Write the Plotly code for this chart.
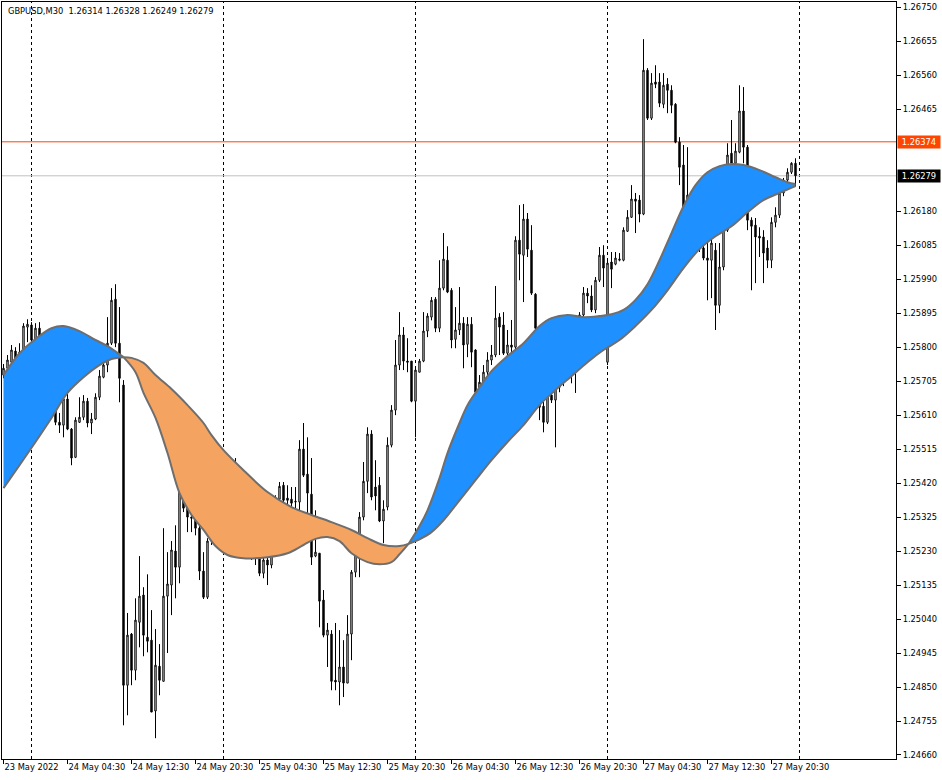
import numpy as np
import plotly.graph_objects as go

# ---------------- data ----------------
symbol_title = "GBPUSD,M30\u00a0\u00a01.26314 1.26328 1.26249 1.26279"

opens = [1.25722,1.25741,1.25758,1.25789,1.25764,1.25786,1.25856,1.25862,1.25820,1.25853,
1.25831,1.25786,1.25713,1.25643,1.25590,1.25582,1.25655,1.25571,1.25492,1.25590,
1.25604,1.25649,1.25588,1.25599,1.25660,1.25716,1.25750,1.25811,1.25934,1.25811,
1.25694,1.24855,1.24998,1.24897,1.25031,1.25107,1.24989,1.24981,1.24783,1.24908,
1.24866,1.25104,1.25135,1.25230,1.25185,1.25400,1.25350,1.25325,1.25322,1.25294,
1.25174,1.25101,1.25258,1.25316,1.25358,1.25400,1.25434,1.25456,1.25442,1.25414,
1.25372,1.25316,1.25261,1.25227,1.25210,1.25168,1.25205,1.25191,1.25261,1.25375,
1.25414,1.25378,1.25375,1.25367,1.25367,1.25515,1.25445,1.25389,1.25216,1.25224,
1.25093,1.24995,1.24998,1.24869,1.24864,1.24906,1.24861,1.24998,1.25171,1.25224,
1.25325,1.25425,1.25557,1.25409,1.25414,1.25314,1.25353,1.25526,1.25624,1.25750,
1.25834,1.25761,1.25761,1.25649,1.25730,1.25761,1.25845,1.25884,1.25934,1.25853,
1.25965,1.26043,1.25959,1.25822,1.25848,1.25867,1.25808,1.25864,1.25792,1.25674,
1.25702,1.25730,1.25764,1.25778,1.25884,1.25862,1.25783,1.25806,1.25800,1.26099,
1.26057,1.26158,1.26071,1.25948,1.25853,1.25635,1.25590,1.25666,1.25652,1.25688,
1.25708,1.25722,1.25730,1.25741,1.25778,1.25890,1.25951,1.25943,1.25904,1.25987,
1.26057,1.25758,1.26038,1.26032,1.26043,1.26043,1.26124,1.26163,1.26214,1.26211,
1.26172,1.26574,1.26440,1.26541,1.26541,1.26479,1.26535,1.26518,1.26479,1.26373,
1.26309,1.26177,1.26219,1.26169,1.26113,1.26077,1.26049,1.26043,1.26071,1.25917,
1.26024,1.26127,1.26342,1.26314,1.26345,1.26460,1.26359,1.26155,1.26141,1.26110,
1.26108,1.26077,1.26043,1.26149,1.26169,1.26231,1.26267,1.26289,1.26314]

highs = [1.25753,1.25778,1.25806,1.25800,1.25811,1.25867,1.25878,1.25870,1.25867,1.25870,
1.25839,1.25797,1.25730,1.25657,1.25616,1.25666,1.25671,1.25574,1.25604,1.25660,
1.25666,1.25658,1.25616,1.25671,1.25736,1.25758,1.25884,1.25965,1.25976,1.25912,
1.25708,1.25057,1.25001,1.25098,1.25216,1.25129,1.25165,1.25065,1.25012,1.24970,
1.25294,1.25227,1.25258,1.25302,1.25484,1.25442,1.25358,1.25372,1.25336,1.25311,
1.25227,1.25266,1.25344,1.25378,1.25423,1.25456,1.25479,1.25490,1.25490,1.25434,
1.25386,1.25330,1.25283,1.25247,1.25219,1.25216,1.25227,1.25275,1.25386,1.25423,
1.25423,1.25414,1.25409,1.25409,1.25540,1.25588,1.25548,1.25490,1.25344,1.25224,
1.25121,1.25029,1.25009,1.25029,1.25009,1.24981,1.25051,1.25177,1.25269,1.25339,
1.25479,1.25576,1.25568,1.25484,1.25437,1.25372,1.25548,1.25638,1.25820,1.25898,
1.25856,1.25825,1.25761,1.25741,1.25767,1.25898,1.25895,1.25940,1.25940,1.26043,
1.26119,1.26082,1.25965,1.25912,1.25968,1.25884,1.25884,1.25884,1.25794,1.25722,
1.25750,1.25786,1.25806,1.25971,1.25895,1.25898,1.25848,1.25876,1.26110,1.26197,
1.26200,1.26175,1.26141,1.25951,1.25862,1.25652,1.25674,1.25680,1.25694,1.25722,
1.25736,1.25750,1.25755,1.25792,1.25898,1.25968,1.25965,1.25973,1.25996,1.26080,
1.26085,1.26043,1.26066,1.26066,1.26063,1.26135,1.26183,1.26253,1.26231,1.26225,
1.26661,1.26580,1.26566,1.26588,1.26566,1.26566,1.26552,1.26532,1.26482,1.26387,
1.26365,1.26359,1.26239,1.26183,1.26127,1.26091,1.26108,1.26105,1.26091,1.26091,
1.26147,1.26370,1.26435,1.26370,1.26532,1.26527,1.26365,1.26163,1.26161,1.26135,
1.26127,1.26099,1.26163,1.26191,1.26239,1.26273,1.26300,1.26317,1.26328]

lows = [1.25713,1.25736,1.25755,1.25755,1.25753,1.25781,1.25814,1.25811,1.25811,1.25825,
1.25769,1.25702,1.25629,1.25582,1.25560,1.25548,1.25568,1.25470,1.25490,1.25588,
1.25596,1.25576,1.25557,1.25596,1.25652,1.25713,1.25730,1.25806,1.25800,1.25646,
1.24743,1.24771,1.24855,1.24869,1.24961,1.24936,1.24947,1.24780,1.24707,1.24827,
1.24866,1.24945,1.25051,1.25098,1.25140,1.25339,1.25283,1.25283,1.25274,1.25149,
1.25096,1.25096,1.25247,1.25302,1.25344,1.25386,1.25423,1.25428,1.25395,1.25350,
1.25294,1.25238,1.25205,1.25191,1.25160,1.25154,1.25135,1.25182,1.25247,1.25372,
1.25364,1.25353,1.25350,1.25344,1.25344,1.25437,1.25336,1.25191,1.25213,1.25017,
1.24989,1.24906,1.24841,1.24841,1.24799,1.24822,1.24861,1.24925,1.25157,1.25157,
1.25316,1.25392,1.25372,1.25344,1.25311,1.25252,1.25344,1.25520,1.25610,1.25736,
1.25736,1.25730,1.25646,1.25548,1.25730,1.25758,1.25828,1.25875,1.25842,1.25842,
1.25959,1.25951,1.25797,1.25797,1.25834,1.25741,1.25772,1.25744,1.25672,1.25658,
1.25685,1.25713,1.25750,1.25772,1.25778,1.25778,1.25764,1.25786,1.25792,1.25987,
1.25926,1.26052,1.25946,1.25842,1.25596,1.25562,1.25585,1.25644,1.25520,1.25674,
1.25691,1.25708,1.25699,1.25672,1.25769,1.25884,1.25923,1.25898,1.25895,1.25982,
1.25968,1.25750,1.25965,1.26029,1.26040,1.26040,1.26122,1.26161,1.26119,1.26149,
1.26169,1.26435,1.26435,1.26524,1.26471,1.26468,1.26454,1.26454,1.26370,1.26253,
1.26183,1.26169,1.26155,1.26099,1.26066,1.26043,1.25931,1.25937,1.25848,1.25895,
1.26015,1.26122,1.26309,1.26295,1.26342,1.26314,1.26127,1.25959,1.25979,1.26052,
1.25979,1.26021,1.26021,1.26135,1.26161,1.26222,1.26261,1.26284,1.26249]

closes = [1.25741,1.25764,1.25792,1.25764,1.25786,1.25859,1.25864,1.25820,1.25853,1.25831,
1.25786,1.25713,1.25643,1.25590,1.25582,1.25655,1.25571,1.25490,1.25596,1.25604,
1.25649,1.25588,1.25599,1.25660,1.25719,1.25750,1.25811,1.25931,1.25811,1.25713,
1.24855,1.24995,1.24897,1.25037,1.25104,1.24995,1.24978,1.24780,1.24911,1.24869,
1.25104,1.25138,1.25233,1.25185,1.25400,1.25350,1.25325,1.25322,1.25294,1.25174,
1.25101,1.25258,1.25316,1.25358,1.25400,1.25434,1.25456,1.25442,1.25414,1.25372,
1.25316,1.25261,1.25227,1.25210,1.25168,1.25205,1.25191,1.25261,1.25372,1.25411,
1.25372,1.25372,1.25364,1.25369,1.25515,1.25442,1.25392,1.25213,1.25227,1.25090,
1.24995,1.25009,1.24866,1.24864,1.24906,1.24861,1.24998,1.25171,1.25224,1.25325,
1.25425,1.25557,1.25381,1.25384,1.25314,1.25347,1.25526,1.25624,1.25750,1.25834,
1.25761,1.25758,1.25649,1.25736,1.25761,1.25845,1.25887,1.25931,1.25853,1.25965,
1.26046,1.25954,1.25820,1.25848,1.25867,1.25806,1.25864,1.25786,1.25674,1.25702,
1.25730,1.25764,1.25778,1.25881,1.25856,1.25783,1.25806,1.25800,1.26099,1.26060,
1.26158,1.26074,1.25951,1.25853,1.25632,1.25590,1.25666,1.25652,1.25688,1.25708,
1.25722,1.25730,1.25741,1.25778,1.25890,1.25951,1.25943,1.25904,1.25987,1.26057,
1.26021,1.26035,1.26018,1.26049,1.26046,1.26127,1.26163,1.26214,1.26208,1.26172,
1.26574,1.26440,1.26538,1.26535,1.26482,1.26532,1.26518,1.26476,1.26373,1.26303,
1.26191,1.26225,1.26169,1.26113,1.26077,1.26049,1.26043,1.26091,1.25917,1.26024,
1.26127,1.26337,1.26314,1.26348,1.26460,1.26359,1.26155,1.26138,1.26108,1.26105,
1.26063,1.26043,1.26149,1.26169,1.26231,1.26267,1.26289,1.26314,1.26279]

fast_bars = [0,4,8,12,15,19,23,26,30,33,35,38,41,44,47,50,53,56,60,66,71,75,78,81,84,87,91,94,97,99,101.25,
             104,106,109,111,114,116,119,122,126,130,134,137,141,145,149,152,155,158,161,164,167,170,173,
             176,179,182,185,189,193,196,198]
fast_vals = [1.25722,1.25783,1.25823,1.25853,1.25859,1.25845,1.25820,1.25803,1.25772,1.25730,1.25672,1.25602,
             1.25504,1.25392,1.25331,1.25289,1.25244,1.25219,1.25210,1.25213,1.25224,1.25247,1.25264,1.25269,
             1.25258,1.25224,1.25199,1.25193,1.25199,1.25221,1.25250,
             1.25300,1.25344,1.25434,1.25504,1.25588,1.25638,1.25688,1.25733,1.25775,1.25811,1.25859,1.25881,
             1.25890,1.25884,1.25887,1.25892,1.25904,1.25932,1.25976,1.26043,1.26119,1.26194,1.26253,1.26289,
             1.26306,1.26312,1.26309,1.26295,1.26275,1.26261,1.26256]
slow_bars = [0,4,8,12,16,20,24,27,30,32,35,38,42,46,50,52,55,60,66,72,77,82,87,91,95,99,101.25,
             104,107,110,114,118,122,126,130,134,138,142,146,150,154,158,162,166,170,174,178,182,186,190,194,198]
slow_vals = [1.25406,1.25470,1.25535,1.25602,1.25672,1.25716,1.25750,1.25767,1.25772,1.25770,1.25756,1.25722,
             1.25683,1.25638,1.25588,1.25554,1.25512,1.25456,1.25395,1.25353,1.25331,1.25311,1.25289,1.25266,
             1.25247,1.25244,1.25250,
             1.25263,1.25283,1.25316,1.25372,1.25428,1.25484,1.25535,1.25582,1.25638,1.25680,1.25719,1.25758,
             1.25792,1.25820,1.25859,1.25904,1.25959,1.26021,1.26074,1.26110,1.26138,1.26177,1.26211,1.26231,
             1.26250]
cross_bars = [30, 101.25]

x_tick_bars = [0, 16, 32, 48, 64, 80, 96, 112, 128, 144, 160, 176, 192]
x_tick_labels = ["23 May 2022", "24 May 04:30", "24 May 12:30", "24 May 20:30", "25 May 04:30",
                 "25 May 12:30", "25 May 20:30", "26 May 04:30", "26 May 12:30", "26 May 20:30",
                 "27 May 04:30", "27 May 12:30", "27 May 20:30"]
day_sep_bars = [7, 55, 103, 151, 199]

y_tick_labels = ["1.24660", "1.24755", "1.24850", "1.24945", "1.25040", "1.25135", "1.25230", "1.25325",
                 "1.25420", "1.25515", "1.25610", "1.25705", "1.25800", "1.25895", "1.25990", "1.26085",
                 "1.26180", "1.26465", "1.26560", "1.26655", "1.26750"]
alert_level = 1.26374
bid_level = 1.26279

# ---------------- figure ----------------
FONT = "DejaVu Sans"
FS = 8.3
bars = np.arange(len(opens))

fig = go.Figure()
fig.add_trace(go.Candlestick(
    x=bars, open=opens, high=highs, low=lows, close=closes,
    increasing=dict(fillcolor="white", line=dict(color="black", width=1)),
    decreasing=dict(fillcolor="black", line=dict(color="black", width=1)),
    whiskerwidth=0, hoverinfo="skip", showlegend=False))

seg_bounds = [fast_bars[0]] + cross_bars + [fast_bars[-1]]
seg_colors = ["#1E90FF", "#F4A460", "#1E90FF"]
outline = dict(color="#6E6E6E", width=2, shape="spline", smoothing=1.0)
for k in range(len(seg_bounds) - 1):
    lo, hi = seg_bounds[k], seg_bounds[k + 1]
    sx = [b for b in slow_bars if lo <= b <= hi]
    sy = [v for b, v in zip(slow_bars, slow_vals) if lo <= b <= hi]
    fx = [b for b in fast_bars if lo <= b <= hi]
    fy = [v for b, v in zip(fast_bars, fast_vals) if lo <= b <= hi]
    fig.add_trace(go.Scatter(x=sx, y=sy, mode="lines", line=outline,
                             hoverinfo="skip", showlegend=False))
    fig.add_trace(go.Scatter(x=fx, y=fy, mode="lines", line=outline, fill="tonexty",
                             fillcolor=seg_colors[k], hoverinfo="skip", showlegend=False))

shapes = []
for b in day_sep_bars:
    shapes.append(dict(type="line", xref="x", yref="paper", x0=b, x1=b, y0=0, y1=1,
                       line=dict(color="black", width=1, dash="3px,3px"), layer="below"))
shapes.append(dict(type="line", xref="paper", yref="y", x0=0, x1=1, y0=bid_level, y1=bid_level,
                   line=dict(color="#C0C0C0", width=1), layer="below"))
shapes.append(dict(type="line", xref="paper", yref="y", x0=0, x1=1, y0=alert_level, y1=alert_level,
                   line=dict(color="#FF4500", width=1), layer="below"))

annotations = [
    dict(text=symbol_title, xref="paper", yref="paper", x=0, y=1, xanchor="left", yanchor="top",
         xshift=4, yshift=-2, showarrow=False, font=dict(family=FONT, size=FS, color="black")),
    dict(text=f"{alert_level:.5f}", xref="paper", yref="y", x=1, y=alert_level, xanchor="left",
         yanchor="middle", xshift=1, showarrow=False, bgcolor="#FF4500", borderpad=1, width=40,
         font=dict(family=FONT, size=FS, color="white")),
    dict(text=f"{bid_level:.5f}", xref="paper", yref="y", x=1, y=bid_level, xanchor="left",
         yanchor="middle", xshift=1, showarrow=False, bgcolor="black", borderpad=1, width=40,
         font=dict(family=FONT, size=FS, color="white")),
]

fig.update_layout(
    width=942, height=780, margin=dict(l=2, r=46, t=2, b=21, autoexpand=False),
    paper_bgcolor="white", plot_bgcolor="white", showlegend=False,
    boxgap=0.5,
    font=dict(family=FONT, size=FS, color="black"),
    shapes=shapes, annotations=annotations,
    xaxis=dict(range=[-0.375, 223.125], showgrid=False, zeroline=False, showline=True, mirror=True,
               linecolor="black", linewidth=1, ticks="outside", ticklen=4, tickcolor="black",
               tickmode="array", tickvals=x_tick_bars, ticktext=x_tick_labels,
               ticklabelposition="outside right", tickangle=0, automargin=False,
               tickfont=dict(family=FONT, size=FS, color="black"),
               rangeslider=dict(visible=False)),
    yaxis=dict(range=[1.246488, 1.267648], side="right", showgrid=False, zeroline=False,
               showline=True, mirror=True, linecolor="black", linewidth=1, ticks="outside",
               ticklen=4, tickcolor="black", tickmode="array", automargin=False,
               tickvals=[float(t) for t in y_tick_labels],
               ticktext=y_tick_labels, tickfont=dict(family=FONT, size=FS, color="black")),
)

fig.write_html("out.html", config={"displayModeBar": False},
               post_script="document.body.style.margin='0px';")
